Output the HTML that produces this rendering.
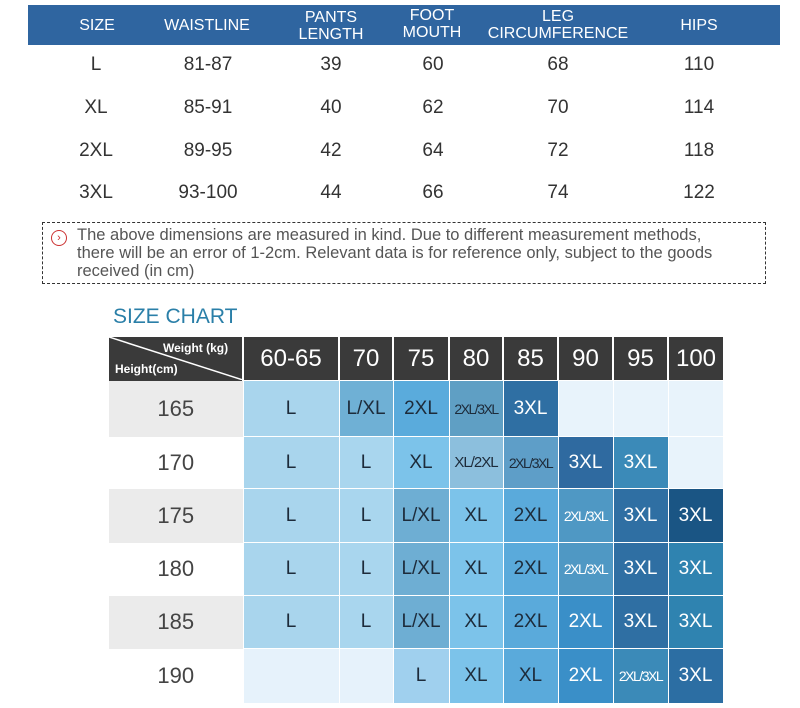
<!DOCTYPE html>
<html><head><meta charset="utf-8"><style>
body{margin:0;width:800px;height:708px;background:#fff;font-family:"Liberation Sans",sans-serif;position:relative;overflow:hidden}
.a{position:absolute}
.hd{left:28px;top:5px;width:752px;height:40px;background:#2f65a0}
.ht{color:#fff;font-size:16px;text-align:center;line-height:17px;transform:translateX(-50%)}
.rt{color:#333;font-size:19px;transform:translateX(-50%)}
.note{left:42px;top:222px;width:722px;height:60px;border:1.5px dashed #333;}
.note p{margin:3px 0 0 34px;font-size:16.5px;line-height:18px;color:#555;white-space:nowrap}
.ic{left:8px;top:7px;width:14px;height:14px;border:1.5px solid #c33;border-radius:50%;color:#c33;font-size:11px;line-height:14px;text-align:center}
table{position:absolute;left:109px;top:337px;border-collapse:collapse;table-layout:fixed;width:614px}
td{padding:0;text-align:center;border:1px solid #fff;font-size:19px;color:#1d2b3a;overflow:hidden;white-space:nowrap}
th{background:#3a3a3a;color:#fff;font-size:24px;font-weight:normal;border-left:2px solid #fff;height:43px;padding:0}
td.h{color:#444;font-size:22px;background:#ebebeb;border:none}
td.w{background:#fff}
.s{font-size:14px;letter-spacing:-1.5px}
.l{color:#fff}
</style></head><body>
<div class="a hd"></div>
<div class="a ht" style="left:97px;top:17px">SIZE</div>
<div class="a ht" style="left:207px;top:17px">WAISTLINE</div>
<div class="a ht" style="left:331px;top:9px">PANTS<br>LENGTH</div>
<div class="a ht" style="left:432px;top:7px">FOOT<br>MOUTH</div>
<div class="a ht" style="left:558px;top:8px">LEG<br>CIRCUMFERENCE</div>
<div class="a ht" style="left:699px;top:17px">HIPS</div>
<div class="a rt" style="left:96px;top:54px">L</div><div class="a rt" style="left:208px;top:54px">81-87</div><div class="a rt" style="left:331px;top:54px">39</div><div class="a rt" style="left:433px;top:54px">60</div><div class="a rt" style="left:558px;top:54px">68</div><div class="a rt" style="left:699px;top:54px">110</div>
<div class="a rt" style="left:96px;top:97px">XL</div><div class="a rt" style="left:208px;top:97px">85-91</div><div class="a rt" style="left:331px;top:97px">40</div><div class="a rt" style="left:433px;top:97px">62</div><div class="a rt" style="left:558px;top:97px">70</div><div class="a rt" style="left:699px;top:97px">114</div>
<div class="a rt" style="left:96px;top:140px">2XL</div><div class="a rt" style="left:208px;top:140px">89-95</div><div class="a rt" style="left:331px;top:140px">42</div><div class="a rt" style="left:433px;top:140px">64</div><div class="a rt" style="left:558px;top:140px">72</div><div class="a rt" style="left:699px;top:140px">118</div>
<div class="a rt" style="left:96px;top:182px">3XL</div><div class="a rt" style="left:208px;top:182px">93-100</div><div class="a rt" style="left:331px;top:182px">44</div><div class="a rt" style="left:433px;top:182px">66</div><div class="a rt" style="left:558px;top:182px">74</div><div class="a rt" style="left:699px;top:182px">122</div>
<div class="a note"><div class="a ic">›</div><p>The above dimensions are measured in kind. Due to different measurement methods,<br>there will be an error of 1-2cm. Relevant data is for reference only, subject to the goods<br>received (in cm)</p></div>
<div class="a" style="left:113px;top:305px;font-size:21px;color:#2a7fa8">SIZE CHART</div>
<table>
<colgroup><col style="width:134px"><col style="width:96px"><col style="width:54px"><col style="width:56px"><col style="width:54px"><col style="width:55px"><col style="width:55px"><col style="width:55px"><col style="width:55px"></colgroup>
<tr><th style="border-left:none;position:relative;font-size:12px;font-weight:bold">
<svg class="a" style="left:0;top:0" width="134" height="43"><line x1="0" y1="0" x2="134" y2="43" stroke="#fff" stroke-width="1.5"/></svg>
<span class="a" style="left:54px;top:4px">Weight (kg)</span><span class="a" style="left:6px;top:25px">Height(cm)</span></th>
<th>60-65</th><th>70</th><th>75</th><th>80</th><th>85</th><th>90</th><th>95</th><th>100</th></tr>
<tr style="height:56px"><td class="h">165</td><td style="background:#a9d5ed">L</td><td style="background:#6fb0d5">L/XL</td><td style="background:#5aabdc">2XL</td><td class="s" style="background:#5f9fc4">2XL/3XL</td><td class="l" style="background:#2f6fa3">3XL</td><td style="background:#e8f3fb"></td><td style="background:#e8f3fb"></td><td style="background:#e8f3fb"></td></tr>
<tr style="height:52px"><td class="h w">170</td><td style="background:#a9d5ed">L</td><td style="background:#a9d6ee">L</td><td style="background:#7cc3ea">XL</td><td style="background:#8cbfdd;font-size:15px;letter-spacing:-1px">XL/2XL</td><td class="s" style="background:#5e9ec8">2XL/3XL</td><td class="l" style="background:#2f6aa0">3XL</td><td class="l" style="background:#3b8ab8">3XL</td><td style="background:#e8f3fb"></td></tr>
<tr style="height:54px"><td class="h">175</td><td style="background:#a9d5ed">L</td><td style="background:#a9d6ee">L</td><td style="background:#6eaed3">L/XL</td><td style="background:#7cc3ea">XL</td><td style="background:#5aaadb">2XL</td><td class="s l" style="background:#4f98c4">2XL/3XL</td><td class="l" style="background:#2f6fa3">3XL</td><td class="l" style="background:#1a5584">3XL</td></tr>
<tr style="height:53px"><td class="h w">180</td><td style="background:#a9d5ed">L</td><td style="background:#a9d6ee">L</td><td style="background:#6eaed3">L/XL</td><td style="background:#7cc3ea">XL</td><td style="background:#5aaadb">2XL</td><td class="s l" style="background:#4f98c4">2XL/3XL</td><td class="l" style="background:#2f6fa3">3XL</td><td class="l" style="background:#2f83b0">3XL</td></tr>
<tr style="height:53px"><td class="h">185</td><td style="background:#a9d5ed">L</td><td style="background:#a9d6ee">L</td><td style="background:#6eaed3">L/XL</td><td style="background:#7cc3ea">XL</td><td style="background:#5aaadb">2XL</td><td class="l" style="background:#3a8fc8">2XL</td><td class="l" style="background:#2f6fa3">3XL</td><td class="l" style="background:#2f83b0">3XL</td></tr>
<tr style="height:55px"><td class="h w">190</td><td style="background:#e6f2fb"></td><td style="background:#e6f2fb"></td><td style="background:#a0d0ee">L</td><td style="background:#7cc3ea">XL</td><td style="background:#5aaadb">XL</td><td class="l" style="background:#3a8fc8">2XL</td><td class="s l" style="background:#3b8ab8">2XL/3XL</td><td class="l" style="background:#2c6ea3">3XL</td></tr>
</table>
</body></html>
